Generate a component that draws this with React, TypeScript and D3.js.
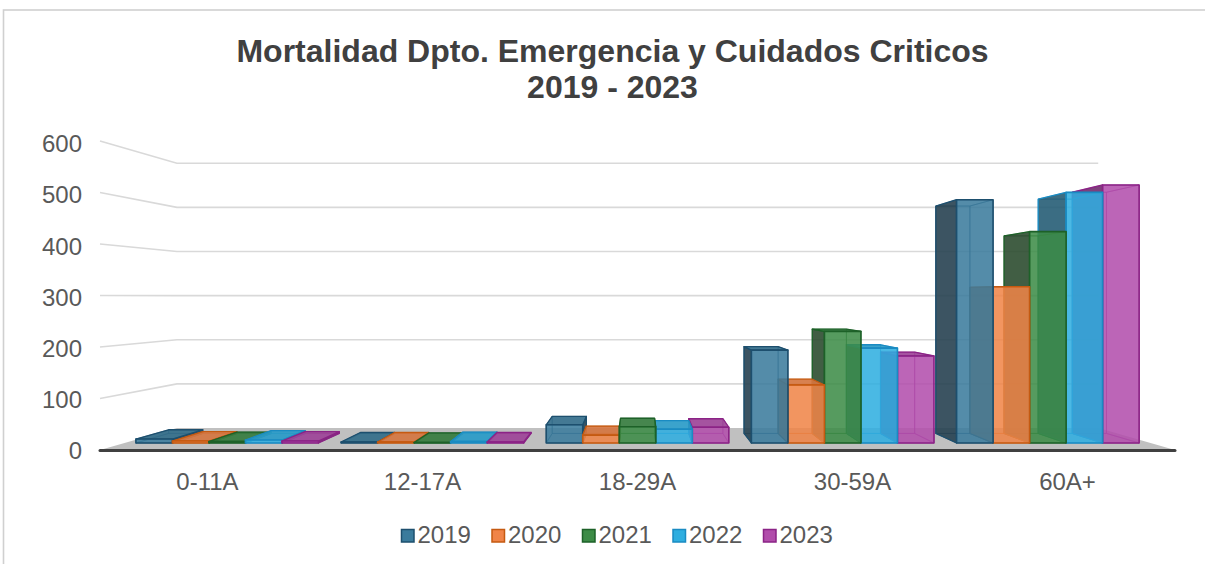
import React from 'react';
import * as d3 from 'd3';

const categories = ['0-11A', '12-17A', '18-29A', '30-59A', '60A+'];
const years = ['2019', '2020', '2021', '2022', '2023'];
const v2019 = [8, 2, 37, 189, 495];
const v2020 = [4, 2, 16, 118, 318];
const v2021 = [3, 1, 33, 227, 430];
const v2022 = [6, 3, 28, 193, 510];
const v2023 = [4, 2, 32, 177, 525];
const seriesValues = [v2019, v2020, v2021, v2022, v2023];
const yTicks = [0, 100, 200, 300, 400, 500, 600];
const titleLines = ['Mortalidad Dpto. Emergencia y Cuidados Criticos', '2019 - 2023'];

const fillColors = ['#3a7b9c', '#f08448', '#3c8b46', '#2eaee0', '#b14dab'];
const strokeColors = ['#1d4f6e', '#c55a11', '#1d6128', '#1a8bc2', '#8b2386'];
const sideColors = ['#25404f', '#c0622a', '#2b4a2f', '#245a72', '#6e2a6b'];

const W = 1205;
const H = 564;
const FONT = '"Liberation Sans", Arial, sans-serif';

export default function App() {
  const x = d3.scaleBand<string>().domain(categories).range([100, 1175]).paddingInner(0.11).paddingOuter(0.055);
  const xs = d3.scaleBand<string>().domain(years).range([0, x.bandwidth()]);
  const xFloor = d3.scaleBand<string>().domain(categories).range([100, 1175]);
  const y = d3.scaleLinear().domain([0, 600]).range([450, 141]);
  const yLabel = d3.scaleLinear().domain([0, 600]).range([459.3, 152.3]);
  const depth = d3.scaleLinear().domain([0, 1]).range([1, 0.857]);
  const vx = 638;
  const vy = 296.5;
  const z0 = 0.32;
  const z1 = 0.755;
  const [fx0, fx1] = xFloor.range();

  const P = (xf: number, v: number, z: number): [number, number] => {
    const s = depth(z);
    return [vx + (xf - vx) * s, vy + (y(v) - vy) * s];
  };
  const pts = (arr: [number, number][]) => arr.map((p) => p.join(',')).join(' ');

  // gridlines
  const grid = yTicks.filter((t) => t > 0).map((t) => {
    const a = P(fx0, t, 0);
    const b = P(fx0, t, 1);
    const c = P(fx1, t, 1);
    return { t, d: `M${a[0]},${a[1]}L${b[0]},${b[1]}L${c[0]},${c[1]}` };
  });

  const floor = [P(fx0, 0, 0), P(fx0, 0, 1), P(fx1, 0, 1), P(fx1, 0, 0)];

  type Bar = { ci: number; si: number; v: number; x0: number; x1: number };
  const bars: Bar[] = [];
  categories.forEach((c, ci) => {
    years.forEach((yr, si) => {
      const x0 = (x(c) as number) + (xs(yr) as number);
      bars.push({ ci, si, v: seriesValues[si][ci], x0, x1: x0 + xs.bandwidth() });
    });
  });
  bars.sort((a, b) => Math.abs((b.x0 + b.x1) / 2 - vx) - Math.abs((a.x0 + a.x1) / 2 - vx));

  const barEls: React.ReactNode[] = [];
  bars.forEach((b, bi) => {
    const { x0, x1, v, si } = b;
    const back = [P(x0, 0, z1), P(x1, 0, z1), P(x1, v, z1), P(x0, v, z1)];
    const front = [P(x0, 0, z0), P(x1, 0, z0), P(x1, v, z0), P(x0, v, z0)];
    const left = [P(x0, 0, z0), P(x0, 0, z1), P(x0, v, z1), P(x0, v, z0)];
    const right = [P(x1, 0, z0), P(x1, 0, z1), P(x1, v, z1), P(x1, v, z0)];
    const top = [P(x0, v, z0), P(x1, v, z0), P(x1, v, z1), P(x0, v, z1)];
    const bottom = [P(x0, 0, z0), P(x1, 0, z0), P(x1, 0, z1), P(x0, 0, z1)];
    const leftVis = x0 > vx;
    const rightVis = x1 < vx;
    const topVis = y(v) > vy;
    const fill = fillColors[si];
    const stroke = strokeColors[si];
    const side = sideColors[si];
    const topFill = d3.color(fill)!.darker(0.35).formatHex();
    const hidden = (p: [number, number][], k: string) => (
      <polygon key={k} points={pts(p)} fill={fill} fillOpacity={0.18} stroke={stroke} strokeOpacity={0.55} strokeWidth={1} strokeLinejoin="round" />
    );
    const g: React.ReactNode[] = [];
    g.push(hidden(back, 'bk'));
    g.push(hidden(bottom, 'bt'));
    if (!leftVis) g.push(hidden(left, 'hl'));
    if (!rightVis) g.push(hidden(right, 'hr'));
    if (!topVis) g.push(hidden(top, 'ht'));
    if (leftVis) g.push(<polygon key="l" points={pts(left)} fill={side} fillOpacity={0.88} stroke={stroke} strokeWidth={1.3} strokeLinejoin="round" />);
    if (rightVis) g.push(<polygon key="r" points={pts(right)} fill={side} fillOpacity={0.88} stroke={stroke} strokeWidth={1.3} strokeLinejoin="round" />);
    if (topVis) g.push(<polygon key="t" points={pts(top)} fill={topFill} fillOpacity={0.9} stroke={stroke} strokeWidth={1.3} strokeLinejoin="round" />);
    g.push(<polygon key="f" points={pts(front)} fill={fill} fillOpacity={0.84} stroke={stroke} strokeWidth={1.6} strokeLinejoin="round" />);
    barEls.push(<g key={bi}>{g}</g>);
  });

  const legendX = d3.scaleBand<string>().domain(years).range([401, 401 + 90.5 * years.length]);

  return (
    <svg width={W} height={H} style={{ position: 'absolute', left: 0, top: 0, background: '#fff' }} fontFamily={FONT}>
      <rect x={3.5} y={10} width={1400} height={700} fill="#fff" stroke="#d0d0d0" strokeWidth={1.6} />
      <text x={612.5} y={62} textAnchor="middle" fontSize={32} fontWeight="bold" fill="#404040">{titleLines[0]}</text>
      <text x={612.5} y={98} textAnchor="middle" fontSize={32} fontWeight="bold" fill="#404040">{titleLines[1]}</text>
      {grid.map((g) => (
        <path key={g.t} d={g.d} fill="none" stroke="#d9d9d9" strokeWidth={1.6} />
      ))}
      <polygon points={pts(floor)} fill="#c0c0c0" />
      <line x1={fx0} x2={fx1} y1={y(0) + 0.5} y2={y(0) + 0.5} stroke="#404040" strokeWidth={3} strokeLinecap="round" />
      {barEls}
      {yTicks.map((t) => (
        <text key={t} x={82} y={yLabel(t)} textAnchor="end" fontSize={24} fill="#595959">{t}</text>
      ))}
      {categories.map((c) => (
        <text key={c} x={(xFloor(c) as number) + xFloor.bandwidth() / 2} y={490} textAnchor="middle" fontSize={24} fill="#595959">{c}</text>
      ))}
      {years.map((yr, i) => (
        <g key={yr} transform={`translate(${legendX(yr)},0)`}>
          <rect x={0.5} y={529.5} width={12.5} height={12.5} fill={fillColors[i]} stroke={strokeColors[i]} strokeWidth={1.5} />
          <text x={16.5} y={543} fontSize={24} fill="#595959">{yr}</text>
        </g>
      ))}
    </svg>
  );
}
